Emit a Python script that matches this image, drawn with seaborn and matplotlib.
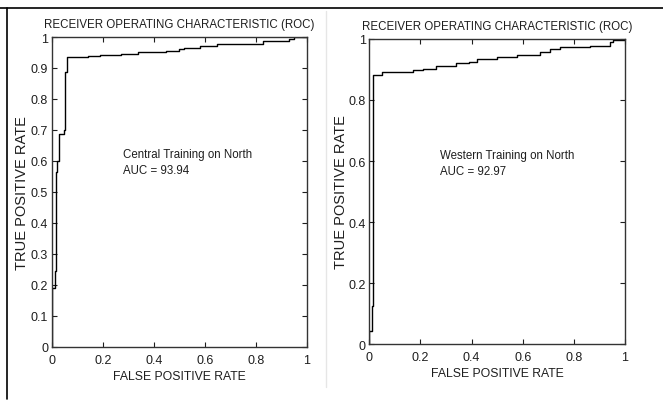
import matplotlib
matplotlib.use("Agg")
import matplotlib.pyplot as plt
import matplotlib.transforms as mtransforms
import seaborn as sns
import pandas as pd
from matplotlib.lines import Line2D

# ---- data ----
central_fpr = [0.0, 0.0, 0.011, 0.016, 0.022, 0.030, 0.048, 0.052, 0.058, 0.143, 0.19, 0.27,
               0.34, 0.45, 0.50, 0.52, 0.58, 0.65, 0.83, 0.93, 0.95, 1.0]
central_tpr = [0.0, 0.19, 0.246, 0.565, 0.600, 0.687, 0.700, 0.888, 0.937, 0.940, 0.943, 0.946,
               0.951, 0.954, 0.960, 0.965, 0.972, 0.978, 0.986, 0.995, 1.0, 1.0]

western_fpr = [0.0, 0.0, 0.009, 0.013, 0.050, 0.17, 0.21, 0.26, 0.34, 0.39, 0.42, 0.50,
               0.576, 0.668, 0.707, 0.746, 0.863, 0.941, 0.953, 1.0]
western_tpr = [0.0, 0.043, 0.126, 0.882, 0.893, 0.897, 0.902, 0.912, 0.920, 0.926, 0.934, 0.940,
               0.948, 0.956, 0.967, 0.975, 0.978, 0.989, 0.998, 1.0]

panel_titles = ["RECEIVER OPERATING CHARACTERISTIC (ROC)", "RECEIVER OPERATING CHARACTERISTIC (ROC)"]
panel_notes = ["Central Training on North\nAUC = 93.94", "Western Training on North\nAUC = 92.97"]
x_ticks = [0, 0.2, 0.4, 0.6, 0.8, 1]
x_tick_labels = ["0", "0.2", "0.4", "0.6", "0.8", "1"]
left_y_ticks = [0, 0.1, 0.2, 0.3, 0.4, 0.5, 0.6, 0.7, 0.8, 0.9, 1]
left_y_labels = ["0", "0.1", "0.2", "0.3", "0.4", "0.5", "0.6", "0.7", "0.8", "0.9", "1"]
right_y_ticks = [0, 0.2, 0.4, 0.6, 0.8, 1]
right_y_labels = ["0", "0.2", "0.4", "0.6", "0.8", "1"]
x_label = "FALSE POSITIVE RATE"
y_label = "TRUE POSITIVE RATE"

sns.set_style("ticks")
FAM = ["Liberation Sans", "DejaVu Sans"]
plt.rcParams["font.family"] = FAM
plt.rcParams["xtick.direction"] = "in"
plt.rcParams["ytick.direction"] = "in"

fig = plt.figure(figsize=(6.63, 4.06), dpi=100)
ax1 = fig.add_axes([0.078, 0.1429, 0.3846, 0.7635])
ax2 = fig.add_axes([0.557, 0.1502, 0.3857, 0.7513])

TXT = "#1e1e1e"
panels = [
    (ax1, central_fpr, central_tpr, left_y_ticks, left_y_labels, panel_notes[0], (0.278, 0.597), 29),
    (ax2, western_fpr, western_tpr, right_y_ticks, right_y_labels, panel_notes[1], (0.277, 0.593), 348),
]
for i, (ax, fx, fy, yt, yl, note, pos, ylx) in enumerate(panels):
    df = pd.DataFrame({"fpr": fx, "tpr": fy})
    sns.lineplot(data=df, x="fpr", y="tpr", ax=ax, estimator=None, sort=False,
                 drawstyle="steps-post", color="black", linewidth=1.0)
    ax.set_xlim(0, 1)
    ax.set_ylim(0, 1)
    ax.set_xticks(x_ticks)
    ax.set_xticklabels(x_tick_labels)
    ax.set_yticks(yt)
    ax.set_yticklabels(yl)
    ax.tick_params(axis="both", which="both", direction="in", length=3.5, width=0.8,
                   top=True, right=True, labelsize=9, colors=TXT)
    ax.tick_params(axis="x", pad=5)
    ax.tick_params(axis="y", pad=2.5)
    for s in ax.spines.values():
        s.set_visible(True)
        s.set_linewidth(1.0)
        s.set_color("#333333")
    ax.set_title(panel_titles[i], fontsize=8.3, color=TXT, pad=7)
    ax.set_xlabel(x_label, fontsize=8.8, color=TXT, labelpad=3)
    ax.set_ylabel(y_label, fontsize=10.5, color=TXT)
    ax.yaxis.set_label_coords(ylx / 663, 0.5,
                              transform=mtransforms.blended_transform_factory(fig.transFigure, ax.transAxes))
    ax.text(pos[0], pos[1], note, fontsize=8.3, color=TXT, ha="left", va="center",
            linespacing=1.4)

# page frame lines
fig.add_artist(Line2D([0, 1], [1 - 9 / 406, 1 - 9 / 406], transform=fig.transFigure,
                      color="black", linewidth=1.2))
fig.add_artist(Line2D([7 / 663, 7 / 663], [1 - 9 / 406, 1 - 400 / 406], transform=fig.transFigure,
                      color="black", linewidth=1.2))
fig.add_artist(Line2D([326 / 663, 326 / 663], [1 - 12 / 406, 1 - 388 / 406], transform=fig.transFigure,
                      color="#e6e6e6", linewidth=1.0))

fig.savefig("out.png", dpi=100, facecolor="white")
